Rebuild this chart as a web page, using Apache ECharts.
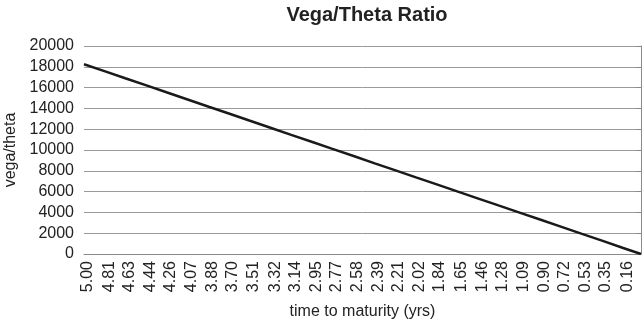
<!DOCTYPE html>
<html><head><meta charset="utf-8">
<script src="https://cdn.jsdelivr.net/npm/echarts@6/dist/echarts.min.js"></script>
<style>html,body{margin:0;padding:0;background:#fff}#c{width:644px;height:323px}</style>
</head><body><div id="c"></div>
<script>
// time to maturity (yrs), as labelled on the x axis, plus the end point
var times = [5.00,4.81,4.63,4.44,4.26,4.07,3.88,3.70,3.51,3.32,3.14,2.95,2.77,2.58,2.39,2.21,2.02,1.84,1.65,1.46,1.28,1.09,0.90,0.72,0.53,0.35,0.16,0.00];
// vega/theta ratio
var ratios = [18250,17560,16900,16210,15550,14860,14160,13510,12810,12120,11460,10770,10110,9420,8720,8070,7370,6720,6020,5330,4670,3980,3290,2630,1930,1280,580,0];
// x tick labels shown
var tickLabels = [5.00,4.81,4.63,4.44,4.26,4.07,3.88,3.70,3.51,3.32,3.14,2.95,2.77,2.58,2.39,2.21,2.02,1.84,1.65,1.46,1.28,1.09,0.90,0.72,0.53,0.35,0.16];

var data = times.map(function(t,i){return [t, ratios[i]];});
var FONT = '"Liberation Sans", Arial, sans-serif';
var chart = echarts.init(document.getElementById('c'));
chart.setOption({
  animation:false,
  title:{text:'Vega/Theta Ratio', left:362, top:0, textAlign:'center',
    textStyle:{fontFamily:FONT, fontWeight:'bold', fontSize:20, color:'#222'}},
  grid:{left:84, right:3, top:46, bottom:69, outerBoundsMode:'none', containLabel:false},
  xAxis:{type:'value', min:0, max:5, inverse:true,
    name:'time to maturity (yrs)', nameLocation:'middle', nameGap:50,
    nameTextStyle:{fontFamily:FONT, fontSize:16, color:'#222'},
    axisLine:{show:true, lineStyle:{color:'#8a8a8a', width:1}},
    axisTick:{show:false},
    splitLine:{show:false},
    axisLabel:{customValues:tickLabels, rotate:90, margin:7, verticalAlign:'top', lineHeight:8, fontFamily:FONT, fontSize:16, color:'#222',
      formatter:function(v){return v.toFixed(2);}}
  },
  yAxis:{type:'value', min:0, max:20000, interval:2000,
    name:'vega/theta', nameLocation:'middle', nameGap:65, nameRotate:90,
    nameTextStyle:{fontFamily:FONT, fontSize:16, color:'#222'},
    axisLine:{show:true, lineStyle:{color:'#8a8a8a', width:1}},
    axisTick:{show:true, inside:false, length:5, lineStyle:{color:'#8a8a8a'}},
    splitLine:{show:true, lineStyle:{color:'#9a9a9a', width:1}},
    axisLabel:{margin:10, fontFamily:FONT, fontSize:16, color:'#222',
      formatter:function(v){return String(v);}}
  },
  series:[{type:'line', data:data, showSymbol:false, lineStyle:{color:'#1a1a1a', width:2.5}}]
});
</script></body></html>
